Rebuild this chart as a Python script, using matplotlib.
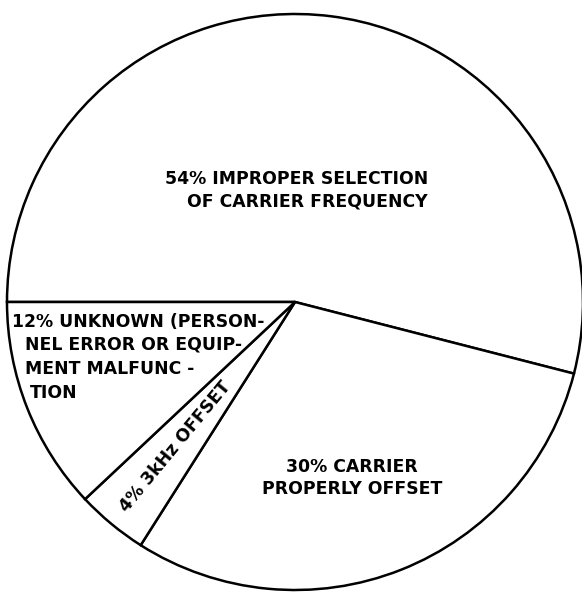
import numpy as np
import matplotlib.pyplot as plt

shares = [54, 30, 4, 12]
labels = ['54% IMPROPER SELECTION\nOF CARRIER FREQUENCY',
          '30% CARRIER\nPROPERLY OFFSET',
          '4% 3kHz OFFSET',
          ['12% UNKNOWN (PERSON-', 'NEL ERROR OR EQUIP-', 'MENT MALFUNC -', 'TION']]

fig = plt.figure(figsize=(5.82, 5.93), dpi=100)
ax = fig.add_axes([0, 0, 1, 1])

R = 288.0
cx, cy = 295.0, 302.0

wedges, _ = ax.pie(shares, startangle=180, counterclock=False,
                   colors=['white'] * len(shares),
                   wedgeprops=dict(edgecolor='black', linewidth=1.8))
ax.set_aspect('auto')
ax.set_xlim(-cx / R, (582 - cx) / R)
ax.set_ylim(-(593 - cy) / R, cy / R)
ax.axis('off')

fnt = dict(family='DejaVu Sans', fontsize=12.4, fontweight='bold', color='black')

# 54% label
ax.text((428 - cx) / R, (cy - 190) / R, labels[0], ha='right', va='center',
        linespacing=1.35, multialignment='right', **fnt)

# 30% label
ax.text((352 - cx) / R, (cy - 478) / R, labels[1], ha='center', va='center',
        linespacing=1.35, **fnt)

# 4% label, along the middle of its slice
w = wedges[2]
mid = np.deg2rad((w.theta1 + w.theta2) / 2)
ax.text(0.65 * np.cos(mid), 0.65 * np.sin(mid), labels[2], ha='center',
        va='center', rotation=np.rad2deg(mid) + 180, rotation_mode='anchor', **fnt)

# 12% label, line by line
xs = [12, 25, 25, 30]
ys = [322, 345, 369, 393]
for s, x, y in zip(labels[3], xs, ys):
    ax.text((x - cx) / R, (cy - y) / R, s, ha='left', va='center', **fnt)

fig.savefig('out.png', dpi=100, facecolor='white')
